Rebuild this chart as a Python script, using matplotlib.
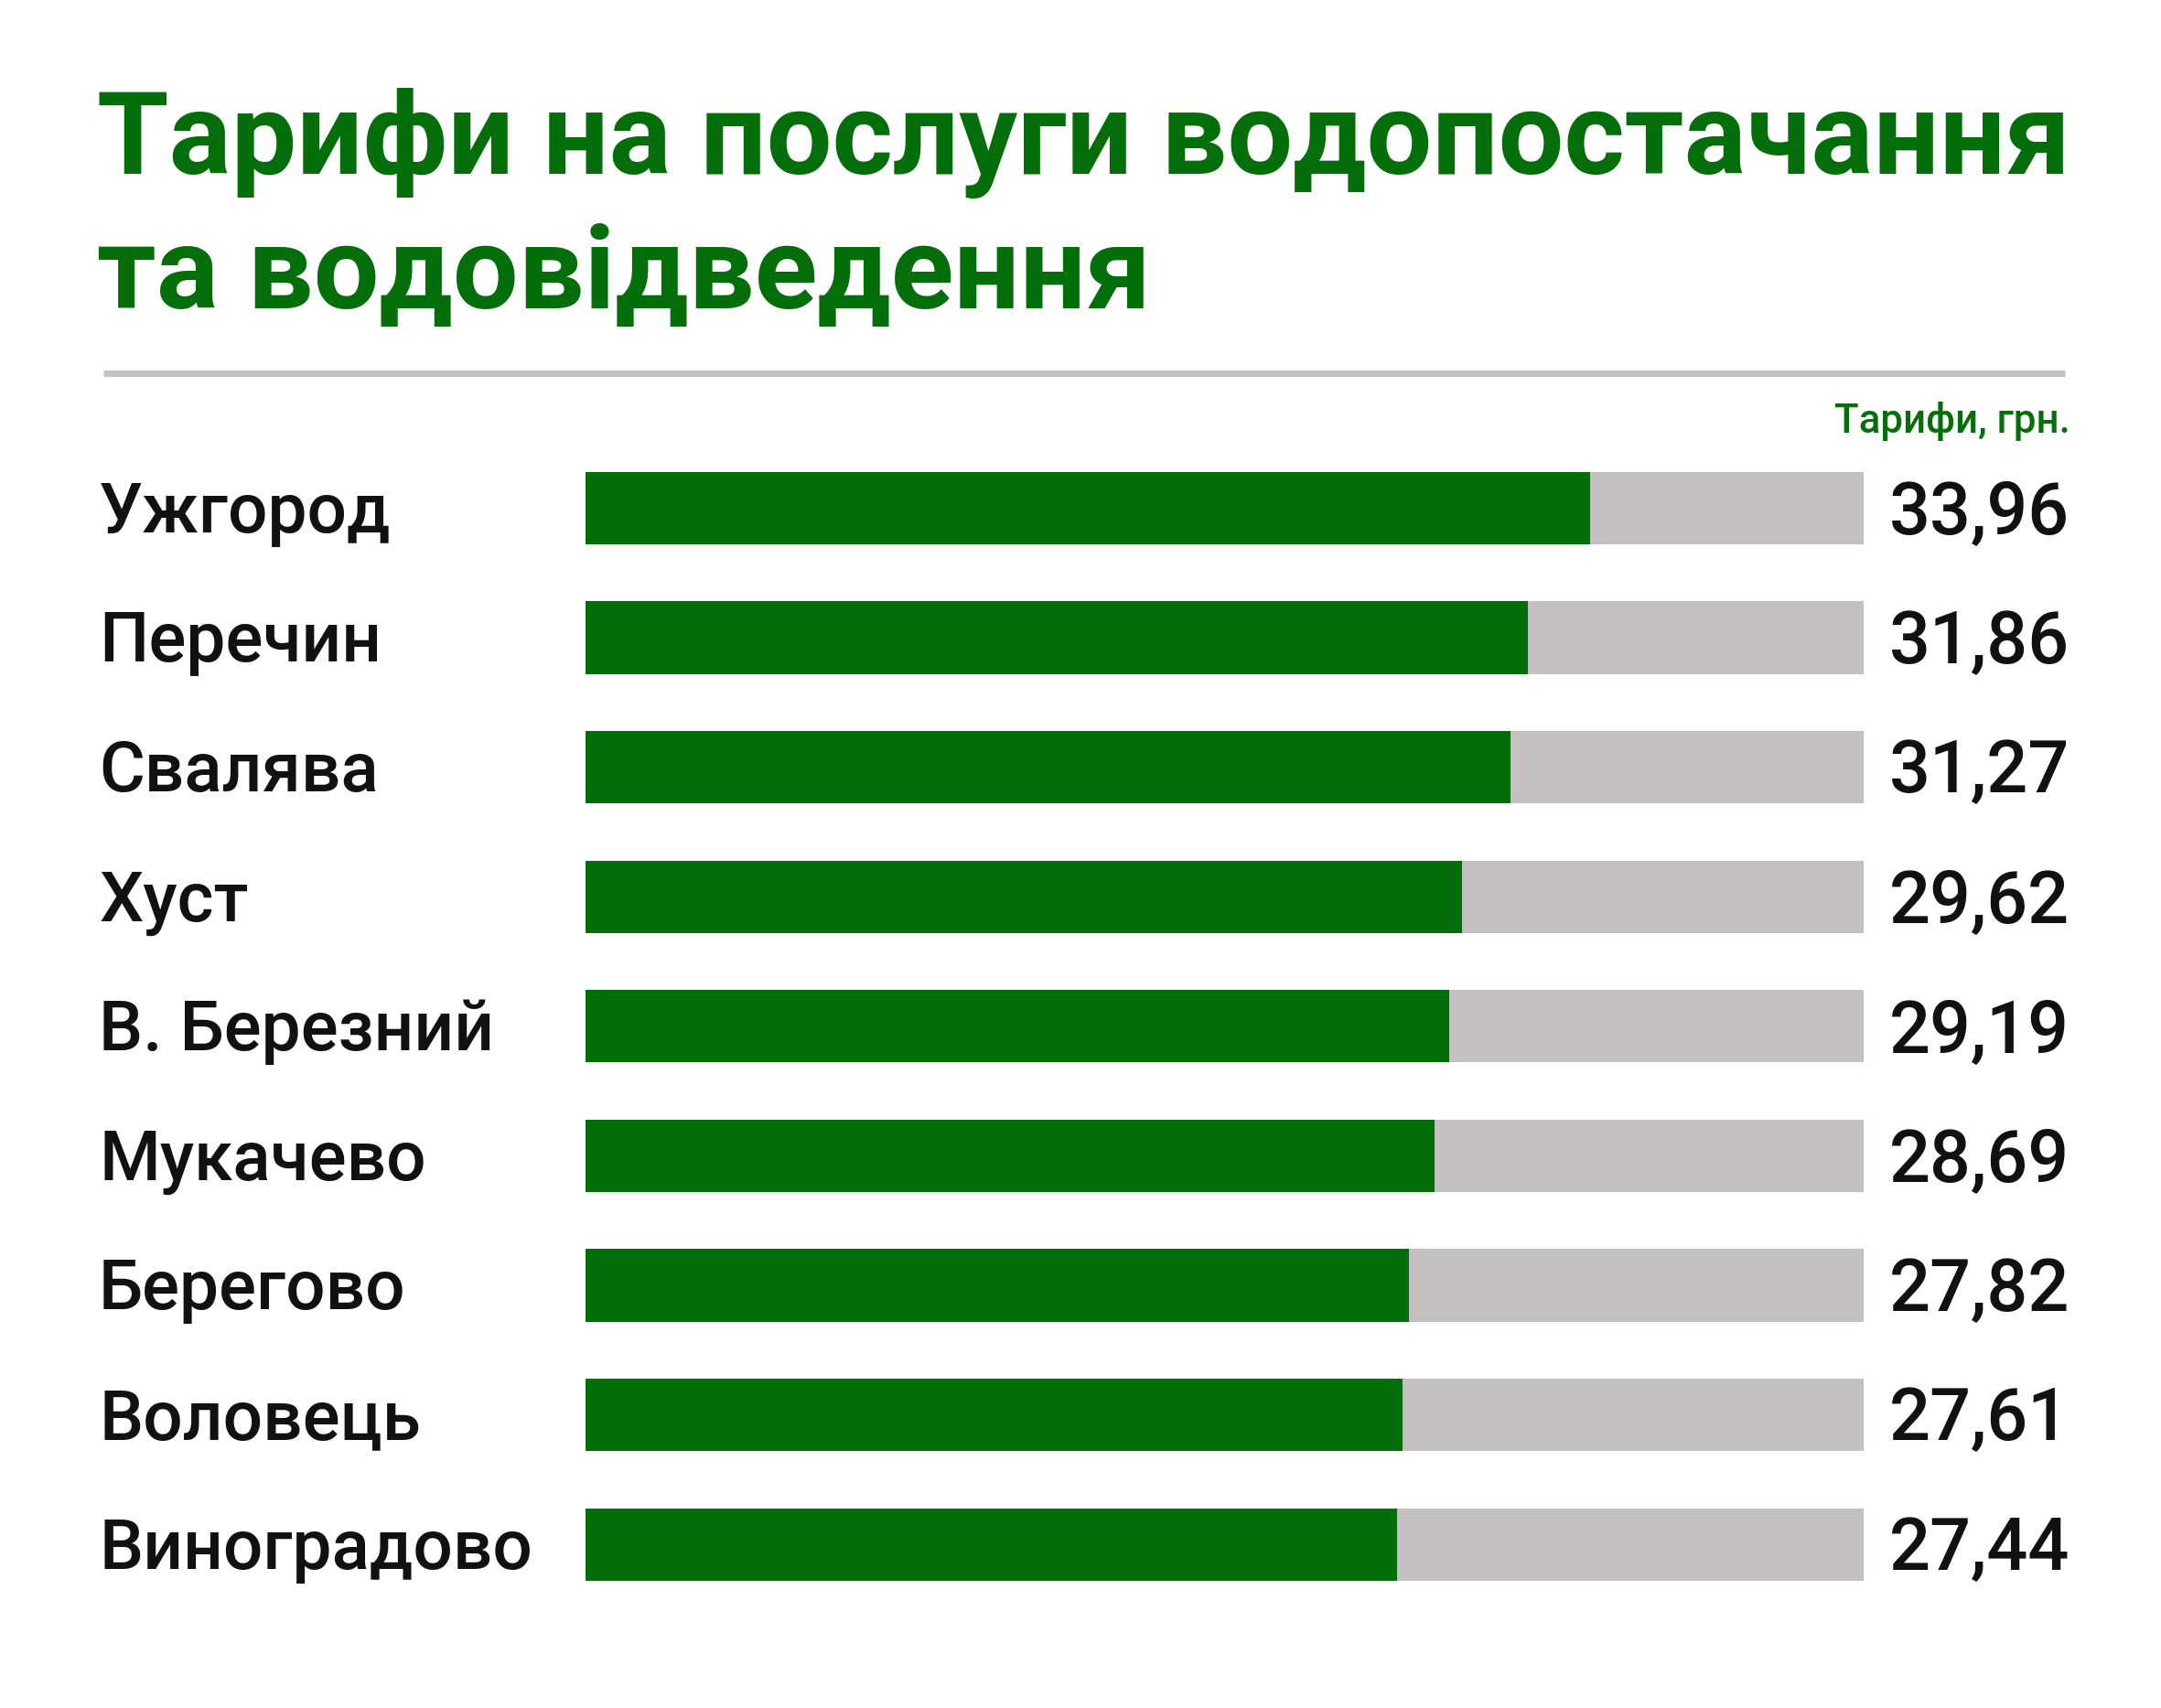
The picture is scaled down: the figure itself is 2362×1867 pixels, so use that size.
import matplotlib
matplotlib.use('Agg')
import matplotlib.pyplot as plt

# data
cities = ['Ужгород', 'Перечин', 'Свалява', 'Хуст', 'В. Березний',
          'Мукачево', 'Берегово', 'Воловець', 'Виноградово']
tariffs = [33.96, 31.86, 31.27, 29.62, 29.19, 28.69, 27.82, 27.61, 27.44]
value_labels = ['33,96', '31,86', '31,27', '29,62', '29,19', '28,69', '27,82', '27,61', '27,44']
scale_max = 43.2

green = '#046f0a'
grey = '#c4c0c1'

plt.rcParams['font.family'] = ['Roboto', 'DejaVu Sans']

W, H = 2362, 1867
fig = plt.figure(figsize=(W / 100, H / 100), dpi=100)
fig.patch.set_facecolor('white')

# title
fig.text(106 / W, 1 - 190 / H, 'Тарифи на послуги водопостачання', fontsize=91.5,
         fontweight='bold', color=green, ha='left', va='baseline')
fig.text(106 / W, 1 - 337 / H, 'та водовідведення', fontsize=91.5,
         fontweight='bold', color=green, ha='left', va='baseline')

# separator line
fig.add_artist(plt.Line2D([113 / W, 2257 / W], [1 - 408.5 / H, 1 - 408.5 / H],
                          color=grey, linewidth=5, solid_capstyle='butt'))

fig.text(2263 / W, 1 - 473 / H, 'Тарифи, грн.', fontsize=31.5, fontweight='medium',
         color=green, ha='right', va='baseline')

ax = fig.add_axes([640 / W, 0.0578, 1397 / W, 0.6827])
y = list(range(len(cities)))
ax.barh(y, [scale_max] * len(cities), height=0.56, color=grey, linewidth=0)
ax.barh(y, tariffs, height=0.56, color=green, linewidth=0)
ax.set_xlim(0, scale_max)
ax.set_ylim(len(cities) - 0.5, -0.5)
ax.axis('off')

for i, (city, lab) in enumerate(zip(cities, value_labels)):
    ax.annotate(city, xy=(108 / W, i), xycoords=('figure fraction', 'data'),
                xytext=(0, -19), textcoords='offset points',
                fontsize=55, fontweight='medium', color='#111111',
                ha='left', va='baseline')
    ax.annotate(lab, xy=(2262 / W, i), xycoords=('figure fraction', 'data'),
                xytext=(0, -20), textcoords='offset points',
                fontsize=57, fontweight='medium', color='#111111',
                ha='right', va='baseline')

fig.savefig('out.png', dpi=100, facecolor='white')
